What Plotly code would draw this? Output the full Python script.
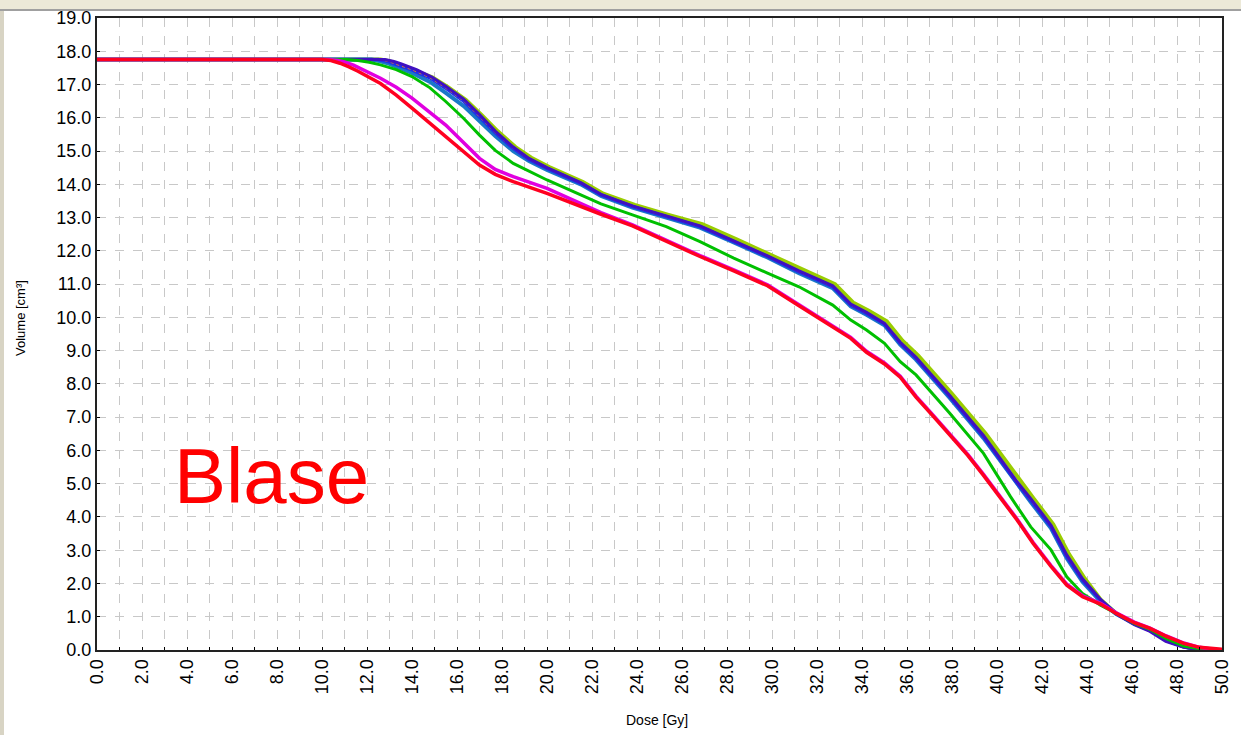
import plotly.graph_objects as go

# ---- data ----
red_dose = [0, 10.0, 10.4, 10.8, 11.2, 11.6, 12.6, 13.3, 14.0, 15.5, 16.3, 17.0, 17.7, 18.5, 20.0, 21.5, 22.4, 23.8,
            25.3, 26.8, 28.3, 29.8, 31.2, 32.7, 33.5, 34.2, 35.0, 35.7, 36.4, 37.2, 37.9, 38.7, 39.4, 40.2, 40.9,
            41.6, 42.4, 43.1, 43.8, 44.6, 45.3, 46.1, 46.8, 47.5, 48.3, 49.0, 49.7, 50.0]
red_vol = [17.75, 17.75, 17.72, 17.64, 17.53, 17.4, 17.03, 16.68, 16.29, 15.43, 14.95, 14.58, 14.3, 14.08, 13.73,
           13.33, 13.1, 12.75, 12.28, 11.83, 11.4, 10.95, 10.35, 9.72, 9.37, 8.95, 8.6, 8.2, 7.6, 7.0, 6.45, 5.85,
           5.25, 4.55, 3.9, 3.21, 2.51, 1.95, 1.6, 1.38, 1.1, 0.82, 0.65, 0.42, 0.2, 0.08, 0.03, 0.02]

magenta_dose = [0, 10.3, 10.7, 11.0, 11.4, 11.8, 12.6, 13.3, 14.0, 15.5, 16.3, 17.0, 17.7, 18.5, 20.0, 21.5, 22.4,
                23.8, 25.3, 26.8, 28.3, 29.8, 31.2, 32.7, 33.5, 34.2, 35.0, 35.7, 36.4, 37.2, 37.9, 38.7, 39.4,
                40.2, 40.9, 41.6, 42.4, 43.1, 43.8, 44.6, 45.3, 46.1, 46.8, 47.5, 48.3, 49.0, 49.6]
magenta_vol = [17.75, 17.75, 17.72, 17.68, 17.58, 17.45, 17.19, 16.92, 16.59, 15.78, 15.25, 14.78, 14.45, 14.23,
               13.88, 13.43, 13.15, 12.78, 12.31, 11.86, 11.43, 10.98, 10.38, 9.75, 9.4, 8.98, 8.63, 8.23, 7.63,
               7.03, 6.48, 5.88, 5.28, 4.58, 3.93, 3.24, 2.54, 1.98, 1.63, 1.4, 1.12, 0.84, 0.66, 0.43, 0.21,
               0.08, 0.02]

green_dose = [0, 11.1, 11.6, 12.1, 12.6, 13.3, 14.0, 14.8, 15.5, 16.3, 17.0, 17.7, 18.5, 20.0, 21.5, 22.4, 23.8,
              25.3, 26.8, 28.3, 29.8, 31.2, 32.7, 33.5, 34.2, 35.0, 35.7, 36.4, 37.9, 39.4, 40.6, 41.5, 42.4,
              43.1, 43.8, 44.6, 45.3, 46.1, 46.8, 47.5, 48.3, 49.0, 49.3]
green_vol = [17.75, 17.75, 17.72, 17.67, 17.59, 17.45, 17.24, 16.9, 16.49, 15.98, 15.48, 15.02, 14.63, 14.13,
             13.68, 13.41, 13.08, 12.73, 12.28, 11.78, 11.33, 10.92, 10.37, 9.92, 9.62, 9.22, 8.67, 8.27, 7.12,
             5.91, 4.61, 3.7, 3.01, 2.2, 1.7, 1.35, 1.1, 0.8, 0.62, 0.35, 0.12, 0.03, 0.0]

blue_dose = [0, 12.5, 12.9, 13.3, 14.0, 14.8, 15.5, 16.3, 17.0, 17.7, 18.5, 19.2, 20.0, 21.5, 22.4, 23.8, 25.3,
             26.8, 28.3, 29.8, 31.2, 32.7, 33.5, 34.2, 35.0, 35.7, 36.4, 37.9, 39.4, 40.9, 41.5, 42.4, 43.1,
             43.8, 44.6, 45.3, 46.1, 46.8, 47.5, 48.3, 48.9, 49.2]
blue_vol = [17.75, 17.75, 17.7, 17.6, 17.44, 17.2, 16.89, 16.5, 16.04, 15.55, 15.08, 14.75, 14.48, 14.03, 13.68,
            13.33, 13.03, 12.73, 12.28, 11.83, 11.37, 10.92, 10.37, 10.12, 9.8, 9.22, 8.77, 7.62, 6.41, 5.01,
            4.5, 3.71, 2.81, 2.1, 1.5, 1.1, 0.8, 0.6, 0.3, 0.1, 0.02, 0.0]

indigo_dose = [0, 12.8, 13.2, 13.5, 14.2, 14.9, 15.5, 16.3, 17.0, 17.7, 18.5, 19.2, 20.0, 21.5, 22.4, 23.8, 25.3,
               26.8, 28.3, 29.8, 31.2, 32.7, 33.5, 34.2, 35.0, 35.7, 36.4, 37.9, 39.4, 40.9, 41.5, 42.4, 43.1,
               43.8, 44.6, 45.3, 46.1, 46.8, 47.5, 48.3, 48.9, 49.2]
indigo_vol = [17.75, 17.75, 17.69, 17.63, 17.45, 17.22, 16.95, 16.56, 16.1, 15.6, 15.12, 14.78, 14.5, 14.05, 13.7,
              13.35, 13.05, 12.75, 12.3, 11.85, 11.4, 10.95, 10.4, 10.15, 9.82, 9.25, 8.8, 7.65, 6.45, 5.05,
              4.55, 3.75, 2.86, 2.14, 1.52, 1.08, 0.76, 0.56, 0.26, 0.08, 0.02, 0.0]

teal_dose = [0, 12.2, 12.6, 13.0, 14.0, 14.8, 15.5, 16.3, 17.0, 17.7, 18.5, 19.2, 20.0, 21.5, 22.4, 23.8, 25.3,
             26.8, 28.3, 29.8, 31.2, 32.7, 33.5, 34.2, 35.0, 35.7, 36.4, 37.9, 39.4, 40.9, 41.5, 42.4, 43.1,
             43.8, 44.6, 45.3, 46.1, 46.8, 47.5, 48.3, 48.9, 49.2]
teal_vol = [17.75, 17.75, 17.7, 17.62, 17.35, 17.08, 16.75, 16.35, 15.9, 15.45, 15.0, 14.7, 14.43, 14.0, 13.65,
            13.3, 13.0, 12.7, 12.25, 11.8, 11.33, 10.88, 10.33, 10.08, 9.76, 9.18, 8.73, 7.58, 6.37, 4.97, 4.45,
            3.66, 2.76, 2.05, 1.46, 1.08, 0.8, 0.6, 0.3, 0.1, 0.02, 0.0]

olive_dose = [0, 12.6, 13.0, 13.4, 14.1, 14.9, 15.6, 16.4, 17.1, 17.8, 18.6, 19.3, 20.1, 21.6, 22.5, 23.9, 25.4,
              26.9, 28.4, 29.9, 31.3, 32.8, 33.6, 34.3, 35.1, 35.8, 36.5, 38.0, 39.5, 41.0, 41.6, 42.5, 43.2,
              43.9, 44.6, 45.3, 46.1, 46.8, 47.5, 48.3, 48.9, 49.2]
olive_vol = [17.75, 17.75, 17.7, 17.6, 17.45, 17.22, 16.92, 16.53, 16.08, 15.6, 15.12, 14.8, 14.52, 14.07, 13.72,
             13.38, 13.08, 12.8, 12.35, 11.9, 11.45, 11.0, 10.45, 10.2, 9.88, 9.3, 8.85, 7.7, 6.5, 5.1, 4.58,
             3.78, 2.88, 2.15, 1.52, 1.1, 0.8, 0.6, 0.3, 0.1, 0.02, 0.0]

x_ticks = [0, 2, 4, 6, 8, 10, 12, 14, 16, 18, 20, 22, 24, 26, 28, 30, 32, 34, 36, 38, 40, 42, 44, 46, 48, 50]
y_ticks = list(range(0, 20))

fig = go.Figure()

def add(x, y, color, width, dash="solid"):
    fig.add_trace(go.Scatter(x=x, y=y, mode="lines", line=dict(color=color, width=width, dash=dash),
                             hoverinfo="skip", showlegend=False))

add(olive_dose, olive_vol, "#9acd00", 4)
add(teal_dose, teal_vol, "#1a78c8", 4)
add(blue_dose, blue_vol, "#2030e8", 3.5)
add(blue_dose, blue_vol, "#e08020", 1, "dot")
add(indigo_dose, indigo_vol, "#4010c0", 3)
add(green_dose, green_vol, "#00c000", 3)
add(magenta_dose, magenta_vol, "#e000e0", 3.5)
add(red_dose, red_vol, "#ff0020", 3.5)

grid = dict(showgrid=True, gridcolor="#c8c8c8", griddash="dash", gridwidth=1)
tickfont = dict(family="Liberation Sans, Arial", size=18, color="#000")

fig.update_xaxes(range=[0, 50], tickvals=x_ticks, ticktext=[f"{v:.1f}" for v in x_ticks],
                 tickangle=-90, ticks="inside", ticklen=3, tickcolor="#000", tickfont=tickfont,
                 showline=True, linecolor="#222", linewidth=2, mirror=True, zeroline=False, automargin=False,
                 minor=dict(dtick=1, showgrid=True, gridcolor="#c8c8c8", griddash="dash",
                            ticks="inside", ticklen=3, tickcolor="#000"),
                 **grid)
fig.update_yaxes(range=[0, 19], tickvals=y_ticks, ticktext=[f"{v:.1f}" for v in y_ticks],
                 ticks="inside", ticklen=3, tickcolor="#000", tickfont=tickfont,
                 showline=True, linecolor="#222", linewidth=2, mirror=True, zeroline=False, automargin=False,
                 **grid)

PW, PH = 1125.0, 632.0  # plot area size in px

# axis titles
fig.add_annotation(x=(657 - 97) / PW, y=(650 - 720) / PH, xref="paper", yref="paper", text="Dose [Gy]",
                   showarrow=False, xanchor="center", yanchor="middle",
                   font=dict(family="Liberation Sans, Arial", size=14, color="#000"))
fig.add_annotation(x=(20 - 97) / PW, y=(650 - 318) / PH, xref="paper", yref="paper", text="Volume [cm³]",
                   showarrow=False, xanchor="center", yanchor="middle", textangle=-90,
                   font=dict(family="Liberation Sans, Arial", size=13, color="#000"))

fig.add_annotation(x=(172 - 97) / PW, y=(650 - 476) / PH, xref="paper", yref="paper", text="Blase",
                   showarrow=False, xanchor="left", yanchor="middle",
                   font=dict(family="Liberation Sans, Arial", size=78, color="#ff0000"))

# window chrome: beige strip at top and left edge
fig.add_shape(type="rect", xref="paper", yref="paper", x0=-0.1, x1=1.1, y0=(650 - 9) / PH, y1=(650 + 5) / PH,
              fillcolor="#ece9d8", line=dict(width=0), layer="below")
fig.add_shape(type="line", xref="paper", yref="paper", x0=-0.1, x1=1.1, y0=(650 - 10) / PH, y1=(650 - 10) / PH,
              line=dict(color="#a0a0a0", width=2))
fig.add_shape(type="rect", xref="paper", yref="paper", x0=-97 / PW, x1=-93 / PW, y0=-0.2, y1=(650 - 10) / PH,
              fillcolor="#d8d4c4", line=dict(width=0), layer="below")

fig.update_layout(width=1241, height=735, margin=dict(l=97, r=19, t=18, b=85),
                  paper_bgcolor="#ffffff", plot_bgcolor="#ffffff")

fig.write_html("out.html", config={"displayModeBar": False},
               post_script="document.body.style.margin='0';document.body.style.overflow='hidden';")
